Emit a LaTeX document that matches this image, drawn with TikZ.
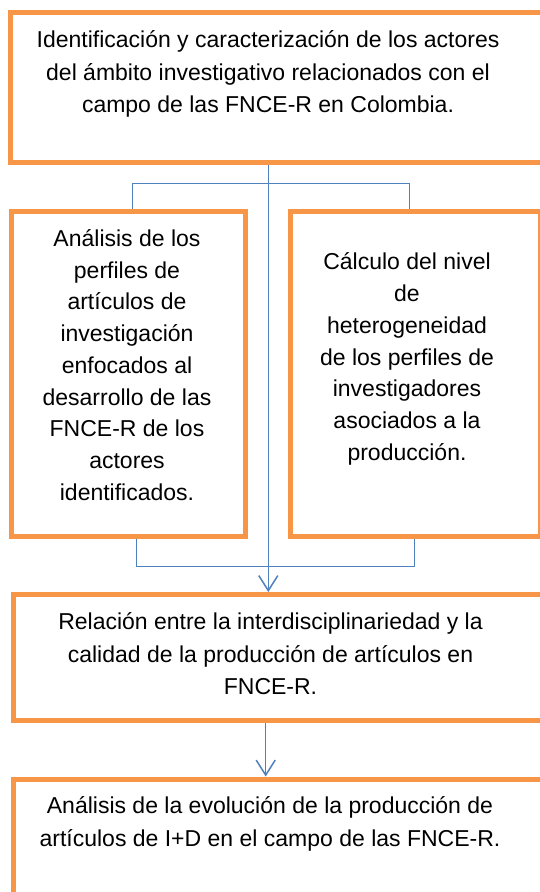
\documentclass[tikz,border=0pt]{standalone}
\usepackage{fontspec}
\setmainfont{Liberation Sans}
\usetikzlibrary{arrows.meta}
\definecolor{boxorange}{HTML}{F79646}
\definecolor{linkblue}{HTML}{4F81BD}
\tikzset{
  box/.style={draw=boxorange, line width=5pt, rectangle, inner sep=0pt, fill=none},
  conn/.style={draw=linkblue, line width=1.5pt},
  arr/.style={conn, -{Straight Barb[length=15pt,width=19pt]}},
  txt/.style={align=center, inner sep=0pt, text=black, font=\fontsize{23}{32.5}\selectfont},
  stxt/.style={align=center, inner sep=0pt, text=black, font=\fontsize{23}{31.7}\selectfont}
}
\begin{document}
\begin{tikzpicture}[x=1pt,y=-1pt]
\useasboundingbox (0,0) rectangle (540,892);
\clip (0,0) rectangle (540,892);
\fill[white] (0,0) rectangle (540,892);
% boxes
\node[box, minimum width=537pt, minimum height=150pt] (b1) at (279.4,87.5) {};
\node[box, minimum width=234pt, minimum height=325pt] (b2) at (128,373.5) {};
\node[box, minimum width=250.5pt, minimum height=325pt] (b2r) at (415.25,373.5) {};
\node[box, minimum width=535pt, minimum height=126pt] (b3) at (280.5,657.5) {};
\node[box, minimum width=535pt, minimum height=181pt] (b4) at (280.5,869.5) {};
% texts
\node[txt] (t1) at (268,74) {Identificación y caracterización de los actores\\del ámbito investigativo relacionados con el\\campo de las FNCE-R en Colombia.};
\node[stxt] (t2) at (127,365) {Análisis de los\\perfiles de\\artículos de\\investigación\\enfocados al\\desarrollo de las\\FNCE-R de los\\actores\\identificados.};
\node[stxt] (t2r) at (407,359) {Cálculo del nivel\\de\\heterogeneidad\\de los perfiles de\\investigadores\\asociados a la\\producción.};
\node[txt] (t3) at (270.5,654) {Relación entre la interdisciplinariedad y la\\calidad de la producción de artículos en\\FNCE-R.};
\node[txt] (t4) at (270,824) {Análisis de la evolución de la producción de\\artículos de I+D en el campo de las FNCE-R.};
% connectors
\coordinate (c1) at (268.3,0);
\coordinate (c2) at (265.7,0);
\coordinate (sl) at (132.7,183.3);
\coordinate (sr) at (409.3,183.3);
\coordinate (ml) at (136.7,566.7);
\coordinate (mr) at (414.3,566.7);
\draw[conn] (b2.north -| sl) -- (sl) -- (sr) -- (b2r.north -| sr);
\draw[conn] (b2.south -| ml) -- (ml) -- (mr) -- (b2r.south -| mr);
\draw[arr] (b1.south -| c1) -- (b3.north -| c1);
\draw[arr] (b3.south -| c2) -- (b4.north -| c2);
\end{tikzpicture}
\end{document}
